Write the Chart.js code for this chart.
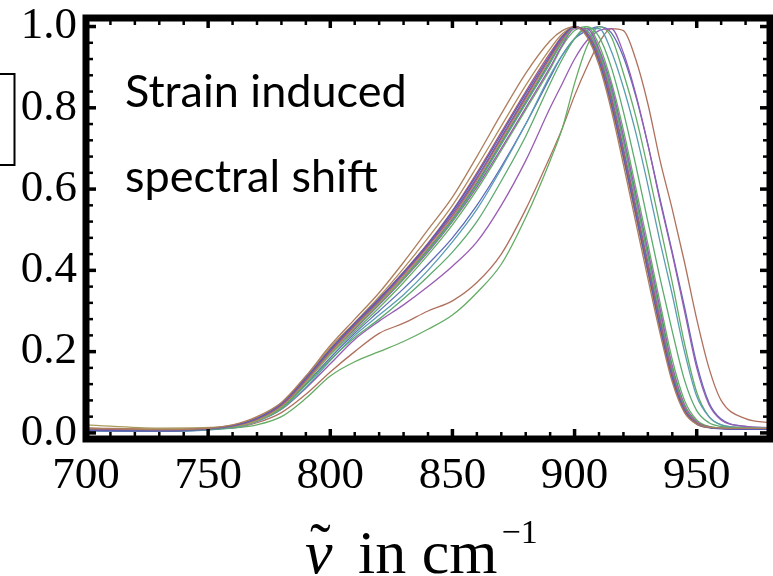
<!DOCTYPE html>
<html>
<head>
<meta charset="utf-8">
<script src="https://cdn.jsdelivr.net/npm/chart.js@4.4.0/dist/chart.umd.min.js"></script>
<style>
  html, body { margin: 0; padding: 0; background: #fff; }
</style>
</head>
<body>
<canvas id="spectra" width="773" height="576"></canvas>
<script>
// wavenumber grid shared by every measured spectrum (cm^-1)
const wavenumbers = [700, 730, 760, 770, 780, 790, 800, 810, 820, 830, 840, 850, 860, 870, 880, 890, 895, 900, 905, 910, 915, 920, 925, 930, 935, 940, 945, 950, 955, 960, 970, 980];

const xTicks = [700, 750, 800, 850, 900, 950];
const yTicks = [0, 0.2, 0.4, 0.6, 0.8, 1.0];

// normalised spectra, unstrained group (peak near 900)
const run01 = [.012, .008, .02, .04, .075, .14, .215, .28, .345, .42, .50, .58, .68, .785, .885, .965, .99, 1.0, .975, .905, .795, .66, .52, .38, .245, .125, .05, .022, .014, .012, .011, .011];
const run02 = [.006, .005, .018, .036, .072, .135, .205, .27, .33, .395, .465, .545, .635, .735, .835, .93, .975, 1.0, .98, .915, .81, .68, .54, .40, .26, .135, .055, .022, .013, .01, .009, .009];
const run03 = [.01, .007, .017, .034, .068, .13, .2, .265, .325, .39, .46, .535, .625, .725, .825, .925, .97, 1.0, .985, .925, .825, .695, .555, .415, .275, .145, .06, .025, .014, .011, .01, .01];
const run04 = [.02, .012, .016, .03, .065, .125, .195, .26, .32, .385, .455, .53, .62, .72, .82, .92, .968, 1.0, .98, .92, .815, .685, .545, .405, .265, .14, .058, .024, .014, .012, .011, .011];
const run05 = [.008, .006, .015, .032, .066, .128, .198, .258, .318, .38, .448, .522, .61, .71, .81, .91, .962, .998, .99, .935, .84, .715, .575, .435, .29, .155, .065, .026, .015, .012, .01, .01];
const run06 = [.005, .004, .016, .035, .07, .132, .202, .262, .322, .385, .452, .528, .615, .715, .815, .915, .965, 1.0, .985, .93, .83, .70, .56, .42, .28, .15, .062, .025, .014, .011, .01, .009];
const run07 = [.007, .005, .017, .033, .067, .127, .196, .255, .315, .378, .445, .52, .605, .70, .80, .90, .955, .995, .995, .945, .855, .73, .59, .45, .305, .165, .07, .028, .015, .012, .01, .01];
const run08 = [.012, .008, .019, .037, .073, .137, .21, .272, .335, .405, .48, .56, .655, .755, .855, .945, .982, 1.0, .978, .91, .805, .675, .535, .395, .255, .13, .052, .021, .013, .011, .01, .01];
const run09 = [.006, .005, .015, .031, .064, .124, .192, .25, .308, .37, .438, .512, .598, .695, .795, .895, .952, .99, 1.0, .955, .865, .745, .605, .465, .32, .18, .08, .032, .016, .012, .01, .01];
const run10 = [.009, .006, .016, .033, .068, .13, .2, .26, .32, .383, .45, .525, .613, .712, .812, .912, .963, .998, .99, .94, .845, .72, .58, .44, .295, .16, .067, .027, .015, .012, .01, .01];
const run11 = [.006, .005, .017, .035, .07, .133, .204, .266, .328, .393, .462, .54, .628, .728, .828, .925, .97, 1.0, .985, .925, .822, .692, .552, .412, .272, .142, .058, .024, .014, .011, .01, .009];
const run12 = [.008, .006, .018, .036, .071, .134, .206, .268, .33, .396, .467, .547, .64, .74, .84, .935, .977, 1.0, .982, .918, .815, .686, .547, .407, .267, .138, .056, .023, .014, .011, .01, .01];

// strained group, peak pushed towards higher wavenumber
const run13 = [.007, .005, .014, .03, .06, .118, .18, .235, .28, .33, .385, .445, .52, .62, .73, .86, .92, .97, 1.0, .975, .90, .79, .66, .52, .38, .25, .13, .055, .025, .016, .012, .011];
const run14 = [.006, .004, .013, .028, .058, .112, .178, .24, .29, .34, .40, .47, .55, .65, .76, .88, .93, .97, .995, .995, .94, .85, .74, .61, .47, .34, .20, .09, .04, .02, .013, .012];
const run15 = [.008, .006, .014, .029, .058, .11, .17, .23, .275, .315, .36, .41, .47, .56, .67, .80, .86, .92, .965, .99, .995, .935, .835, .71, .57, .44, .30, .16, .07, .032, .016, .013];
const run16 = [.01, .007, .012, .02, .04, .085, .14, .175, .20, .225, .255, .29, .345, .415, .53, .67, .75, .86, .95, 1.0, .975, .885, .78, .65, .51, .37, .22, .10, .04, .02, .013, .012];
const run17 = [.012, .01, .012, .025, .05, .095, .15, .20, .245, .27, .30, .325, .37, .44, .55, .68, .75, .83, .90, .96, .995, .99, .92, .81, .67, .55, .42, .28, .16, .08, .035, .025];
const run18 = [.006, .005, .015, .031, .063, .12, .185, .245, .30, .355, .415, .48, .56, .655, .76, .875, .93, .97, .99, 1.0, .985, .925, .83, .71, .575, .445, .31, .17, .075, .034, .016, .012];

const runs = [run01, run02, run03, run04, run05, run06, run07, run08, run09, run10, run11, run12, run13, run14, run15, run16, run17, run18];
const runColors = ['#ad7d5c', '#5c5cb4', '#a85a7e', '#a89c5c', '#5caa70', '#5a7cb2', '#9a5cb2', '#b08a5a', '#62b062', '#5a9ab2', '#6060b8', '#aa5c78',
                   '#5caa6e', '#5a9cb4', '#985cb4', '#64ac64', '#b0705e', '#5c6cb8'];

const datasets = runs.map((r, i) => ({
    data: r.map((v, k) => ({x: wavenumbers[k], y: v})),
    borderColor: runColors[i],
    borderWidth: 1.3,
    pointRadius: 0,
    fill: false,
    cubicInterpolationMode: 'monotone'
}));

const line = (ctx, x1, y1, x2, y2) => {
    ctx.beginPath();
    ctx.moveTo(x1, y1);
    ctx.lineTo(x2, y2);
    ctx.stroke();
};

// thick Mathematica-style frame with inward ticks, plus the labels around it
const framePlugin = {
    id: 'frame',
    afterDraw(chart) {
        const {ctx, chartArea: a, scales: {x, y}} = chart;
        ctx.save();
        ctx.strokeStyle = '#000';
        ctx.fillStyle = '#000';

        for (let v = 700; v <= 980; v += 10) {
            const px = x.getPixelForValue(v);
            const major = v % 50 === 0;
            const len = major ? 10 : 7;
            ctx.lineWidth = major ? 3.5 : 2.5;
            line(ctx, px, a.bottom, px, a.bottom - len);
            line(ctx, px, a.top, px, a.top + len);
        }
        for (let i = 0; i <= 25; i++) {
            const py = y.getPixelForValue(i * 0.04);
            const major = i % 5 === 0;
            const len = major ? 10 : 7;
            ctx.lineWidth = major ? 3.5 : 2.5;
            line(ctx, a.left, py, a.left + len, py);
            line(ctx, a.right, py, a.right - len, py);
        }

        ctx.lineWidth = 7;
        ctx.strokeRect(a.left, a.top, a.right - a.left, a.bottom - a.top);

        // legend box cut off at the left edge
        ctx.lineWidth = 2;
        ctx.strokeRect(-10, 74, 24.5, 91);

        // annotation
        ctx.font = '45px Lato';
        ctx.textAlign = 'left';
        ctx.textBaseline = 'alphabetic';
        ctx.fillText('Strain induced', 125, 107);
        ctx.fillText('spectral shift', 125, 192);

        // axis title: ν̃ in cm^-1
        ctx.font = 'italic 62px "Liberation Serif"';
        ctx.fillText('\u03BD', 305, 573);
        ctx.font = '62px "Liberation Serif"';
        ctx.fillText('\u02DC', 310, 566);
        const unit = 'in cm';
        ctx.fillText(unit, 358, 573);
        const end = 358 + ctx.measureText(unit).width;
        ctx.font = '34px "Liberation Serif"';
        ctx.fillText('\u22121', end + 4, 543);
        ctx.restore();
    }
};

new Chart(document.getElementById('spectra'), {
    type: 'line',
    data: {datasets},
    options: {
        responsive: false,
        animation: false,
        layout: {padding: {top: 18, right: 3, left: 0, bottom: 0}},
        plugins: {legend: {display: false}, tooltip: {enabled: false}},
        scales: {
            x: {
                type: 'linear',
                min: 700,
                max: 980,
                afterBuildTicks: s => { s.ticks = xTicks.map(v => ({value: v})); },
                afterFit: s => { s.height = 137; s.paddingLeft = 0; s.paddingRight = 0; },
                grid: {display: false, drawTicks: false},
                border: {display: false},
                ticks: {
                    color: '#000',
                    font: {family: 'Liberation Serif', size: 45},
                    padding: 10,
                    maxRotation: 0,
                    autoSkip: false
                }
            },
            y: {
                type: 'linear',
                min: -0.015,
                max: 1.021,
                afterBuildTicks: s => { s.ticks = yTicks.map(v => ({value: v})); },
                afterFit: s => { s.width = 86; s.paddingTop = 0; s.paddingBottom = 0; },
                grid: {display: false, drawTicks: false},
                border: {display: false},
                ticks: {
                    color: '#000',
                    font: {family: 'Liberation Serif', size: 45},
                    padding: 9,
                    callback: v => v.toFixed(1)
                }
            }
        }
    },
    plugins: [framePlugin]
});
</script>
</body>
</html>
